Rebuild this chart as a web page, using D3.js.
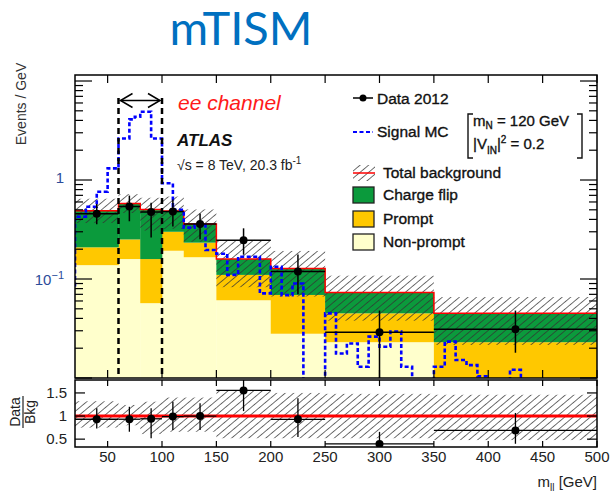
<!DOCTYPE html>
<html>
<head>
<meta charset="utf-8">
<script src="https://cdn.jsdelivr.net/npm/d3@7"></script>
<style>
  body { margin: 0; background: #fff; }
  text { font-family: "Liberation Sans", Arial, sans-serif; }
  .heavy { stroke: #111; stroke-width: 0.35px; }
</style>
</head>
<body>
<script>
// background bins (GeV)
let binEdges = [20, 60, 80, 100, 120, 150, 200, 250, 350, 500];
let nonPrompt = [0.138, 0.159, 0.057, 0.193, 0.166, 0.061, 0.028, 0.023, 0.004];
let prompt = [0.071, 0.092, 0.102, 0.107, 0.067, 0.049, 0.041, 0.022, 0.019];
let chargeFlip = [0.281, 0.329, 0.346, 0.186, 0.127, 0.049, 0.059, 0.028, 0.022];
// relative background uncertainty (up / down)
let bkgUp = [1.32, 1.24, 1.31, 1.40, 1.40, 1.56, 1.50, 1.48, 1.46];
let bkgDown = [0.75, 0.80, 0.61, 0.66, 0.66, 0.52, 0.52, 0.52, 0.48];

// data 2012
let dataX = [40, 70, 90, 110, 135, 175, 225, 300, 425];
let dataY = [0.456, 0.54, 0.475, 0.48, 0.36, 0.247, 0.119, 0.029, 0.031];
let dataHi = [0.573, 0.696, 0.59, 0.637, 0.46, 0.325, 0.177, 0.048, 0.048];
let dataLo = [0.358, 0.383, 0.263, 0.34, 0.252, 0.176, 0.070, 0.005, 0.018];

// signal MC (m_N = 120 GeV)
let sigEdges = [10, 20, 30, 40, 50, 60, 70, 75, 80, 90, 100, 110, 120, 130, 140, 150, 160, 170, 180,
  190, 200, 210, 220, 230, 240, 250, 260, 270, 280, 290, 300, 310, 320, 330, 340, 350, 360, 370,
  380, 390, 400, 410, 420, 430, 440];
let sigVals = [0.08, 0.426, 0.537, 0.762, 1.31, 2.63, 4.1, 4.36, 4.9, 2.63, 0.926, 0.5, 0.33, 0.35,
  0.196, 0.18, 0.11, 0.168, 0.168, 0.0716, 0.133, 0.0688, 0.09, 0, 0, 0.045, 0.0177, 0.0223, 0.013,
  0.0262, 0.0207, 0.0294, 0.013, 0, 0, 0.013, 0.0233, 0.0152, 0.0135, 0.0104, 0, 0, 0.0121, 0];

let xTicks = [50, 100, 150, 200, 250, 300, 350, 400, 450, 500];
let ratioTicks = [0.5, 1, 1.5];
let massWindow = [60, 100];

let colNonPrompt = '#FFFFCC';
let colPrompt = '#FFC800';
let colChargeFlip = '#0B9A3C';

let svg = d3.select('body')
  .append('svg')
  .attr('width', 613)
  .attr('height', 493);

let pLeft = 75, pRight = 597, pTop = 75, pBottom = 378;
let rTop = 380, rBottom = 447;

let x = d3.scaleLinear().domain([20, 500]).range([pLeft, pRight]);
let y = d3.scaleLog().domain([0.01, 11.5]).range([pBottom, pTop]);
let yr = d3.scaleLinear().domain([0.33, 1.78]).range([rBottom, rTop]);

let defs = svg.append('defs');
defs.append('clipPath').attr('id', 'clipMain')
  .append('rect').attr('x', pLeft).attr('y', pTop).attr('width', pRight - pLeft).attr('height', pBottom - pTop);
defs.append('clipPath').attr('id', 'clipRatio')
  .append('rect').attr('x', pLeft).attr('y', rTop).attr('width', pRight - pLeft).attr('height', rBottom - rTop);
let pat = defs.append('pattern').attr('id', 'hatch')
  .attr('patternUnits', 'userSpaceOnUse')
  .attr('width', 5.5).attr('height', 6)
  .attr('patternTransform', 'rotate(50)');
pat.append('line').attr('x1', 0).attr('y1', 0).attr('x2', 0).attr('y2', 6)
  .attr('stroke', '#333').attr('stroke-width', 1.4);

// title
svg.append('text')
  .attr('x', 241).attr('y', 45)
  .attr('text-anchor', 'middle')
  .style('font-family', 'Lato, "Open Sans", sans-serif')
  .style('font-size', '47px')
  .attr('fill', '#0070C0')
  .text('mTISM');

// ---------- main panel ----------
let bins = binEdges.slice(0, -1).map((e, i) => {
  let np = nonPrompt[i], pr = np + prompt[i], tot = pr + chargeFlip[i];
  return { x0: e, x1: binEdges[i + 1], np: np, pr: pr, tot: tot, up: tot * bkgUp[i], dn: tot * bkgDown[i] };
});

let main = svg.append('g').attr('clip-path', 'url(#clipMain)');

function stackLayer(lo, hi, col) {
  main.selectAll(null).data(bins).enter().append('rect')
    .attr('x', d => x(d.x0))
    .attr('width', d => x(d.x1) - x(d.x0) + 0.3)
    .attr('y', d => y(hi(d)))
    .attr('height', d => y(Math.max(lo(d), 0.001)) - y(hi(d)))
    .attr('fill', col);
}
stackLayer(d => 0.001, d => d.np, colNonPrompt);
stackLayer(d => d.np, d => d.pr, colPrompt);
stackLayer(d => d.pr, d => d.tot, colChargeFlip);

// uncertainty band
main.selectAll(null).data(bins).enter().append('rect')
  .attr('x', d => x(d.x0))
  .attr('width', d => x(d.x1) - x(d.x0))
  .attr('y', d => y(d.up))
  .attr('height', d => y(d.dn) - y(d.up))
  .attr('fill', 'url(#hatch)');

// total background line
let totPts = [];
bins.forEach(d => { totPts.push([d.x0, d.tot]); totPts.push([d.x1, d.tot]); });
main.append('path')
  .attr('d', d3.line().x(p => x(p[0])).y(p => y(p[1]))(totPts))
  .attr('fill', 'none').attr('stroke', '#FF0000').attr('stroke-width', 1.5);

// signal MC
let sigPts = [];
sigVals.forEach((v, i) => {
  let vv = Math.max(v, 0.005);
  sigPts.push([sigEdges[i], vv]);
  sigPts.push([sigEdges[i + 1], vv]);
});
main.append('path')
  .attr('d', d3.line().x(p => x(p[0])).y(p => y(p[1]))(sigPts))
  .attr('fill', 'none').attr('stroke', '#0000FF').attr('stroke-width', 2.6)
  .attr('stroke-dasharray', '4,2.5');

// mass window
massWindow.forEach(m => {
  svg.append('line')
    .attr('x1', x(m)).attr('x2', x(m))
    .attr('y1', 98).attr('y2', pBottom)
    .attr('stroke', '#000').attr('stroke-width', 2.5)
    .attr('stroke-dasharray', '6,4');
});
let ay = 100.5;
svg.append('line')
  .attr('x1', x(massWindow[0]) + 2).attr('x2', x(massWindow[1]) - 2)
  .attr('y1', ay).attr('y2', ay)
  .attr('stroke', '#000').attr('stroke-width', 1.5);
svg.append('path')
  .attr('d', `M${x(massWindow[0]) + 14},${ay - 7}L${x(massWindow[0]) + 2},${ay}L${x(massWindow[0]) + 14},${ay + 7}` +
    `M${x(massWindow[1]) - 14},${ay - 7}L${x(massWindow[1]) - 2},${ay}L${x(massWindow[1]) - 14},${ay + 7}`)
  .attr('fill', 'none').attr('stroke', '#000').attr('stroke-width', 1.5);

// data points
let dataG = svg.append('g').attr('clip-path', 'url(#clipMain)');
dataX.forEach((dx, i) => {
  dataG.append('line')
    .attr('x1', x(binEdges[i])).attr('x2', x(binEdges[i + 1]))
    .attr('y1', y(dataY[i])).attr('y2', y(dataY[i]))
    .attr('stroke', '#000').attr('stroke-width', 1.5);
  dataG.append('line')
    .attr('x1', x(dx)).attr('x2', x(dx))
    .attr('y1', y(dataHi[i])).attr('y2', y(dataLo[i]))
    .attr('stroke', '#000').attr('stroke-width', 1.5);
  dataG.append('circle')
    .attr('cx', x(dx)).attr('cy', y(dataY[i])).attr('r', 4)
    .attr('fill', '#000');
});

// frame and ticks of main
svg.append('rect')
  .attr('x', pLeft).attr('y', pTop).attr('width', pRight - pLeft).attr('height', pBottom - pTop)
  .attr('fill', 'none').attr('stroke', '#000').attr('stroke-width', 1.5);

let logTicks = [];
[0.01, 0.1, 1, 10].forEach(dec => {
  for (let k = 1; k <= 9; k++) {
    let v = dec * k;
    if (v >= 0.01 && v <= 11.5) logTicks.push({ v: v, major: k === 1 });
  }
});
logTicks.forEach(t => {
  let len = t.major ? 17 : 8;
  svg.append('line').attr('x1', pLeft).attr('x2', pLeft + len)
    .attr('y1', y(t.v)).attr('y2', y(t.v)).attr('stroke', '#000').attr('stroke-width', 1.2);
  svg.append('line').attr('x1', pRight).attr('x2', pRight - len)
    .attr('y1', y(t.v)).attr('y2', y(t.v)).attr('stroke', '#000').attr('stroke-width', 1.2);
});
xTicks.forEach(t => {
  svg.append('line').attr('x1', x(t)).attr('x2', x(t))
    .attr('y1', pTop).attr('y2', pTop + 8).attr('stroke', '#000').attr('stroke-width', 1.2);
  svg.append('line').attr('x1', x(t)).attr('x2', x(t))
    .attr('y1', pBottom).attr('y2', pBottom - 8).attr('stroke', '#000').attr('stroke-width', 1.2);
});

// main y labels
svg.append('text').attr('x', 64).attr('y', y(1) + 3)
  .attr('text-anchor', 'end').style('font-size', '15px').attr('fill', '#2b4c9a').text('1');
let lab = svg.append('text').attr('x', 64).attr('y', y(0.1) + 6)
  .attr('text-anchor', 'end').style('font-size', '15px').attr('fill', '#2b4c9a');
lab.append('tspan').text('10');
lab.append('tspan').attr('dy', -6).style('font-size', '11px').text('\u22121');

svg.append('text')
  .attr('transform', 'translate(26,104) rotate(-90)')
  .attr('text-anchor', 'middle')
  .style('font-size', '14px').attr('fill', '#333')
  .text('Events / GeV');

// labels inside main
svg.append('text').attr('x', 178).attr('y', 110)
  .style('font-size', '21px').style('font-style', 'italic').attr('fill', '#FF1A1A')
  .text('ee channel');
svg.append('text').attr('x', 177).attr('y', 146)
  .style('font-size', '17px').style('font-style', 'italic').style('font-weight', 'bold').attr('fill', '#111')
  .text('ATLAS');
let rs = svg.append('text').attr('x', 177).attr('y', 170)
  .style('font-size', '14px').attr('fill', '#222');
rs.append('tspan').text('\u221As = 8 TeV, 20.3 fb');
rs.append('tspan').attr('dy', -6).style('font-size', '10px').text('-1');

// legend
let lx = 353, ltx = 383;
let leg = svg.append('g');
leg.append('line').attr('x1', lx).attr('x2', lx + 20).attr('y1', 98).attr('y2', 98)
  .attr('stroke', '#000').attr('stroke-width', 1.5);
leg.append('circle').attr('cx', lx + 10).attr('cy', 98).attr('r', 3.5).attr('fill', '#000');
leg.append('text').attr('class', 'heavy').attr('x', 377).attr('y', 104).style('font-size', '15.5px').attr('fill', '#111').text('Data 2012');

leg.append('line').attr('x1', lx).attr('x2', lx + 20).attr('y1', 132).attr('y2', 132)
  .attr('stroke', '#0000FF').attr('stroke-width', 2.2).attr('stroke-dasharray', '4,2.5');
leg.append('text').attr('class', 'heavy').attr('x', 377).attr('y', 137).style('font-size', '15.5px').attr('fill', '#111').text('Signal MC');

leg.append('path').attr('d', 'M473,114H468V158H473M577,114H582V158H577')
  .attr('fill', 'none').attr('stroke', '#111').attr('stroke-width', 1.4);
let mN = leg.append('text').attr('class', 'heavy').attr('x', 473).attr('y', 126).style('font-size', '15px').attr('fill', '#111');
mN.append('tspan').text('m');
mN.append('tspan').attr('dy', 3).style('font-size', '10px').text('N');
mN.append('tspan').attr('dy', -3).text(' = 120 GeV');
let vN = leg.append('text').attr('class', 'heavy').attr('x', 473).attr('y', 149).style('font-size', '15px').attr('fill', '#111');
vN.append('tspan').text('|V');
vN.append('tspan').attr('dy', 5).style('font-size', '10px').text('IN');
vN.append('tspan').attr('dy', -5).text('|');
vN.append('tspan').attr('dy', -6).style('font-size', '10px').text('2');
vN.append('tspan').attr('dy', 6).text(' = 0.2');

leg.append('rect').attr('x', lx).attr('y', 165).attr('width', 22).attr('height', 16).attr('fill', 'url(#hatch)');
leg.append('line').attr('x1', lx).attr('x2', lx + 22).attr('y1', 173).attr('y2', 173)
  .attr('stroke', '#FF0000').attr('stroke-width', 1.5);
leg.append('text').attr('class', 'heavy').attr('x', ltx).attr('y', 178).style('font-size', '15.5px').attr('fill', '#111').text('Total background');

let boxes = [
  { label: 'Charge flip', col: colChargeFlip, y: 187 },
  { label: 'Prompt', col: colPrompt, y: 211 },
  { label: 'Non-prompt', col: colNonPrompt, y: 234 }
];
boxes.forEach(b => {
  leg.append('rect').attr('x', lx).attr('y', b.y).attr('width', 21).attr('height', 16)
    .attr('fill', b.col).attr('stroke', '#222').attr('stroke-width', 1.3);
  leg.append('text').attr('class', 'heavy').attr('x', ltx).attr('y', b.y + 13).style('font-size', '15.5px').attr('fill', '#111').text(b.label);
});

// ---------- ratio panel ----------
let ratioG = svg.append('g').attr('clip-path', 'url(#clipRatio)');
ratioG.selectAll(null).data(bins).enter().append('rect')
  .attr('x', d => x(d.x0))
  .attr('width', d => x(d.x1) - x(d.x0))
  .attr('y', (d, i) => yr(bkgUp[i]))
  .attr('height', (d, i) => yr(bkgDown[i]) - yr(bkgUp[i]))
  .attr('fill', 'url(#hatch)');
ratioG.append('line').attr('x1', pLeft).attr('x2', pRight).attr('y1', yr(1)).attr('y2', yr(1))
  .attr('stroke', '#FF0000').attr('stroke-width', 3);
dataX.forEach((dx, i) => {
  let tot = bins[i].tot;
  let r = dataY[i] / tot;
  ratioG.append('line')
    .attr('x1', x(binEdges[i])).attr('x2', x(binEdges[i + 1]))
    .attr('y1', yr(r)).attr('y2', yr(r))
    .attr('stroke', '#000').attr('stroke-width', 1.3);
  ratioG.append('line')
    .attr('x1', x(dx)).attr('x2', x(dx))
    .attr('y1', yr(dataHi[i] / tot)).attr('y2', yr(dataLo[i] / tot))
    .attr('stroke', '#000').attr('stroke-width', 1.3);
  ratioG.append('circle').attr('cx', x(dx)).attr('cy', yr(r)).attr('r', 4).attr('fill', '#000');
});

svg.append('rect')
  .attr('x', pLeft).attr('y', rTop).attr('width', pRight - pLeft).attr('height', rBottom - rTop)
  .attr('fill', 'none').attr('stroke', '#000').attr('stroke-width', 1.5);
ratioTicks.forEach(t => {
  svg.append('line').attr('x1', pLeft).attr('x2', pLeft + 10).attr('y1', yr(t)).attr('y2', yr(t))
    .attr('stroke', '#000').attr('stroke-width', 1.2);
  svg.append('line').attr('x1', pRight).attr('x2', pRight - 10).attr('y1', yr(t)).attr('y2', yr(t))
    .attr('stroke', '#000').attr('stroke-width', 1.2);
  svg.append('text').attr('x', 67).attr('y', yr(t) + 5).attr('text-anchor', 'end')
    .style('font-size', '15px').attr('fill', '#222').text(t);
});
xTicks.forEach(t => {
  svg.append('line').attr('x1', x(t)).attr('x2', x(t)).attr('y1', rTop).attr('y2', rTop + 6)
    .attr('stroke', '#000').attr('stroke-width', 1.2);
  svg.append('line').attr('x1', x(t)).attr('x2', x(t)).attr('y1', rBottom).attr('y2', rBottom - 6)
    .attr('stroke', '#000').attr('stroke-width', 1.2);
  svg.append('text').attr('x', x(t)).attr('y', 462).attr('text-anchor', 'middle')
    .style('font-size', '15px').attr('fill', '#222').text(t);
});

// ratio y title
svg.append('text').attr('transform', 'translate(20,412) rotate(-90)').attr('text-anchor', 'middle')
  .style('font-size', '14px').attr('fill', '#222').text('Data');
svg.append('text').attr('transform', 'translate(35,412) rotate(-90)').attr('text-anchor', 'middle')
  .style('font-size', '14px').attr('fill', '#222').text('Bkg');
svg.append('line').attr('x1', 23).attr('x2', 23).attr('y1', 396).attr('y2', 428)
  .attr('stroke', '#222').attr('stroke-width', 1.2);

// x title
let xt = svg.append('text').attr('x', 597).attr('y', 487).attr('text-anchor', 'end')
  .style('font-size', '15px').attr('fill', '#222');
xt.append('tspan').text('m');
xt.append('tspan').attr('dy', 4).style('font-size', '10px').text('ll');
xt.append('tspan').attr('dy', -4).text(' [GeV]');
</script>
</body>
</html>
